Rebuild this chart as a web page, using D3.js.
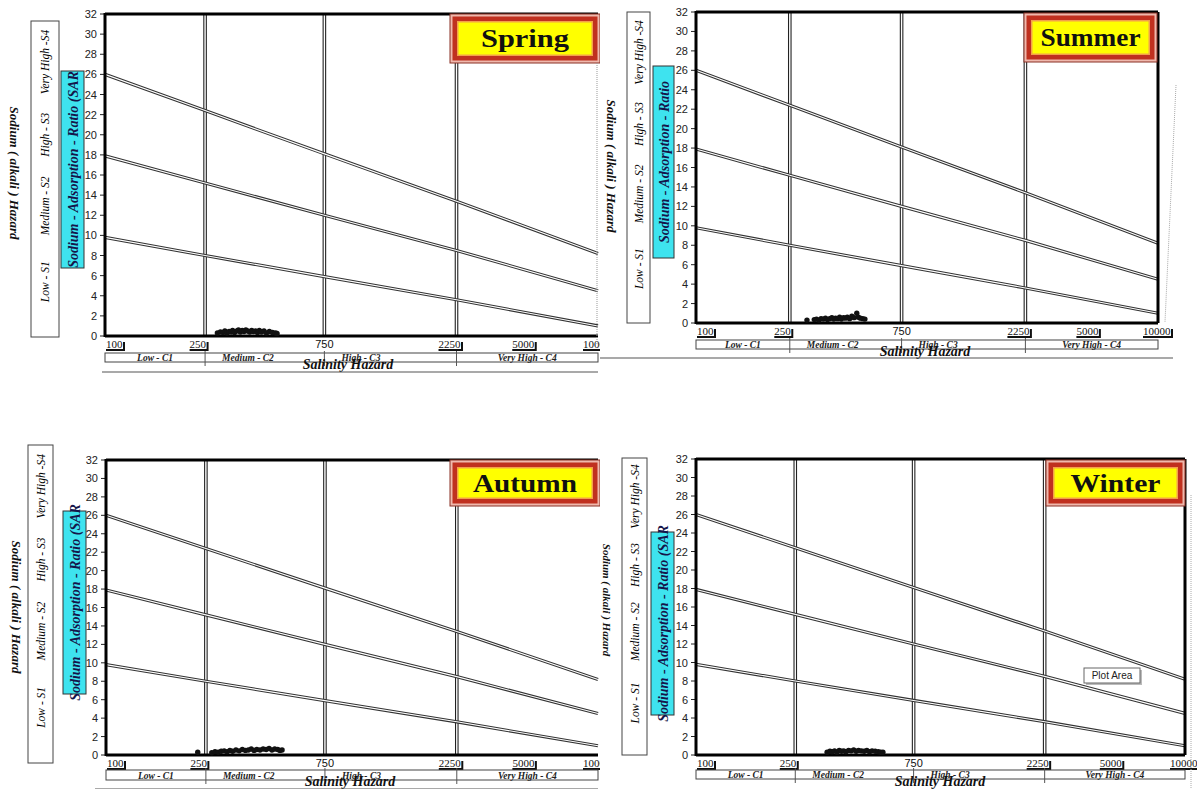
<!DOCTYPE html>
<html>
<head>
<meta charset="utf-8">
<script src="https://cdn.jsdelivr.net/npm/d3@7"></script>
<style>
  body { margin: 0; background: #fff; }
  svg { display: block; }
</style>
</head>
<body>
<div id="chart"></div>
<script>
// ---- data ----
var seasons = ["Spring", "Summer", "Autumn", "Winter"];
var ecBreaks = [100, 250, 750, 2250, 10000];          // salinity class limits (µS/cm)
var xTickValues = [100, 250, 750, 2250, 5000, 10000];
var xTickLabels = ["100", "250", "750", "2250", "5000", "10000"];
var yTickValues = [0, 2, 4, 6, 8, 10, 12, 14, 16, 18, 20, 22, 24, 26, 28, 30, 32];
var salinityClasses = ["Low - C1", "Medium - C2", "High - C3", "Very High - C4"];
var sodiumClasses = ["Very High -S4", "High - S3", "Medium - S2", "Low - S1"];

// SAR boundary lines, values at ecBreaks
var lineS3S4 = [26, 22.4, 18.1, 13.4, 8.2];
var lineS2S3 = [17.9, 15.2, 12.0, 8.5, 4.5];
var lineS1S2 = [9.8, 8.0, 5.9, 3.6, 1.0];

var springEC  = [280, 288, 295, 300, 306, 312, 318, 322, 328, 335, 340, 346, 352, 358, 364, 370, 377, 384, 390, 398, 405, 412, 420, 430, 440, 452, 465, 478, 485];
var springSAR = [0.3, 0.4, 0.35, 0.5, 0.3, 0.45, 0.4, 0.55, 0.35, 0.5, 0.6, 0.4, 0.55, 0.45, 0.6, 0.5, 0.4, 0.55, 0.45, 0.5, 0.35, 0.55, 0.4, 0.5, 0.3, 0.45, 0.35, 0.3, 0.25];
var summerEC  = [296, 318, 325, 333, 340, 348, 355, 362, 370, 378, 385, 392, 400, 408, 415, 424, 432, 440, 450, 460, 470, 483, 490, 500, 512, 523];
var summerSAR = [0.3, 0.35, 0.4, 0.3, 0.45, 0.4, 0.5, 0.35, 0.45, 0.55, 0.4, 0.5, 0.45, 0.6, 0.4, 0.55, 0.5, 0.6, 0.45, 0.7, 0.55, 1.0, 0.6, 0.5, 0.45, 0.4];
var autumnEC  = [232, 264, 272, 280, 288, 296, 304, 312, 320, 330, 340, 350, 360, 370, 380, 390, 400, 412, 424, 436, 448, 460, 472, 485, 495, 505];
var autumnSAR = [0.3, 0.25, 0.35, 0.3, 0.4, 0.45, 0.35, 0.5, 0.4, 0.55, 0.45, 0.6, 0.5, 0.55, 0.65, 0.5, 0.6, 0.55, 0.65, 0.6, 0.7, 0.55, 0.65, 0.6, 0.5, 0.55];
var winterEC  = [336, 345, 352, 360, 368, 376, 384, 392, 400, 410, 420, 430, 440, 450, 462, 474, 486, 498, 510, 525, 540, 552, 564];
var winterSAR = [0.3, 0.4, 0.35, 0.45, 0.3, 0.5, 0.4, 0.45, 0.35, 0.5, 0.45, 0.55, 0.4, 0.5, 0.45, 0.4, 0.5, 0.35, 0.45, 0.4, 0.35, 0.3, 0.3];

// ---- layout of the four panels ----
var panels = [
  {title: seasons[0], ec: springEC, sar: springSAR, L: 105, R: 598, T: 14, B: 336, clip: true,
   haz: [31, 21, 28, 316], sarBox: [61, 71, 23, 197], sarText: "Sodium - Adsorption - Ratio (SAR",
   sodX: 15, sodY: 173, sodSize: 13, tBox: [450, 14, 150, 49], tLen: 88,
   sTop: 353, sBot: 362, salX: 348, salY: 369, line: [102, 598, 372], rightFrame: false},
  {title: seasons[1], ec: summerEC, sar: summerSAR, L: 696, R: 1158, T: 12, B: 323, clip: false,
   haz: [627, 12, 23, 311], sarBox: [653, 66, 21, 192], sarText: "Sodium - Adsorption - Ratio",
   sodX: 612, sodY: 166, sodSize: 13, tBox: [1024, 13, 133, 49], tLen: 100,
   sTop: 340, sBot: 349, salX: 925, salY: 356, line: [600, 1173, 358], rightFrame: true},
  {title: seasons[2], ec: autumnEC, sar: autumnSAR, L: 106, R: 598, T: 460, B: 755, clip: true,
   haz: [28, 445, 25, 318], sarBox: [63, 511, 23, 183], sarText: "Sodium - Adsorption - Ratio (SAR",
   sodX: 17, sodY: 607, sodSize: 13, tBox: [450, 460, 150, 46], tLen: 104,
   sTop: 770, sBot: 780, salX: 350, salY: 786, line: [95, 598, 789], rightFrame: false},
  {title: seasons[3], ec: winterEC, sar: winterSAR, L: 696, R: 1185, T: 459, B: 755, clip: false,
   haz: [622, 458, 25, 297], sarBox: [651, 532, 23, 183], sarText: "Sodium - Adsorption - Ratio (SAR",
   sodX: 608, sodY: 600, sodSize: 11, tBox: [1046, 460, 139, 46], tLen: 90,
   sTop: 770, sBot: 779, salX: 940, salY: 786, line: [600, 1190, 792], rightFrame: true}
];
var breakFrac = [0, 0.203, 0.445, 0.713, 1];
var hazFrac = [0.13, 0.36, 0.585, 0.825];
var serif = "'Liberation Serif', 'DejaVu Serif', serif";
var sans = "'Liberation Sans', Arial, sans-serif";

var svg = d3.select("#chart").append("svg").attr("width", 1197).attr("height", 789);
svg.append("defs").append("clipPath").attr("id", "leftHalf")
  .append("rect").attr("x", 0).attr("y", 0).attr("width", 600).attr("height", 789);

panels.forEach(function(p) {
  var g = svg.append("g");
  if (p.clip) g.attr("clip-path", "url(#leftHalf)");
  var w = p.R - p.L;
  var xs = d3.scaleLinear().domain(ecBreaks.map(Math.log10)).range(breakFrac.map(function(f) { return p.L + f * w; }));
  var x = function(v) { return xs(Math.log10(v)); };
  var y = d3.scaleLinear().domain([0, 32]).range([p.B, p.T]);

  // hazard label box
  g.append("rect").attr("x", p.haz[0]).attr("y", p.haz[1]).attr("width", p.haz[2]).attr("height", p.haz[3])
    .attr("fill", "#fff").attr("stroke", "#444").attr("stroke-width", 1);
  sodiumClasses.forEach(function(c, i) {
    var cx = p.haz[0] + p.haz[2] / 2 + 4, cy = p.haz[1] + p.haz[3] * hazFrac[i];
    g.append("text").attr("transform", "translate(" + cx + "," + cy + ") rotate(-90)")
      .attr("text-anchor", "middle").attr("font-family", serif).attr("font-style", "italic")
      .attr("font-size", 11.5).attr("fill", "#000").text(c);
  });
  g.append("text").attr("transform", "translate(" + (p.sodX - 5) + "," + p.sodY + ") rotate(90)")
    .attr("text-anchor", "middle").attr("font-family", serif).attr("font-style", "italic").attr("font-weight", "bold")
    .attr("font-size", p.sodSize).attr("fill", "#111").text("Sodium ( alkali ) Hazard");

  // SAR cyan box
  g.append("rect").attr("x", p.sarBox[0]).attr("y", p.sarBox[1]).attr("width", p.sarBox[2]).attr("height", p.sarBox[3])
    .attr("fill", "#3ee3ef").attr("stroke", "#333").attr("stroke-width", 1);
  g.append("text").attr("transform", "translate(" + (p.sarBox[0] + p.sarBox[2] / 2 + 5) + "," + (p.sarBox[1] + p.sarBox[3] / 2) + ") rotate(-90)")
    .attr("text-anchor", "middle").attr("font-family", serif).attr("font-style", "italic").attr("font-weight", "bold")
    .attr("font-size", 14).attr("fill", "#15154a").text(p.sarText);

  // y axis ticks and labels
  yTickValues.forEach(function(t) {
    g.append("line").attr("x1", p.L - 5).attr("x2", p.L).attr("y1", y(t)).attr("y2", y(t)).attr("stroke", "#222");
    g.append("text").attr("x", p.L - 8).attr("y", y(t) + 4).attr("text-anchor", "end")
      .attr("font-family", sans).attr("font-size", 11).attr("fill", "#222").text(t);
  });

  // vertical class lines (double)
  [250, 750, 2250].forEach(function(v) {
    g.append("line").attr("x1", x(v)).attr("x2", x(v)).attr("y1", p.T).attr("y2", p.B).attr("stroke", "#222").attr("stroke-width", 3.6);
    g.append("line").attr("x1", x(v)).attr("x2", x(v)).attr("y1", p.T).attr("y2", p.B).attr("stroke", "#fff").attr("stroke-width", 1.4);
  });

  // SAR boundary lines (double)
  var lineGen = d3.line().x(function(d, i) { return x(ecBreaks[i]); }).y(function(d) { return y(d); });
  [lineS3S4, lineS2S3, lineS1S2].forEach(function(arr) {
    g.append("path").attr("d", lineGen(arr)).attr("fill", "none").attr("stroke", "#333").attr("stroke-width", 3.2);
    g.append("path").attr("d", lineGen(arr)).attr("fill", "none").attr("stroke", "#fff").attr("stroke-width", 1.1);
  });

  // frame
  g.append("line").attr("x1", p.L).attr("x2", p.R).attr("y1", p.T).attr("y2", p.T).attr("stroke", "#000").attr("stroke-width", 3);
  g.append("line").attr("x1", p.L).attr("x2", p.L).attr("y1", p.T - 1).attr("y2", p.B + 1).attr("stroke", "#000").attr("stroke-width", 3);
  g.append("line").attr("x1", p.L).attr("x2", p.R).attr("y1", p.B).attr("y2", p.B).attr("stroke", "#000").attr("stroke-width", 3);
  if (p.rightFrame) {
    g.append("line").attr("x1", p.R).attr("x2", p.R).attr("y1", p.T).attr("y2", p.B).attr("stroke", "#000").attr("stroke-width", 3);
  }

  // samples
  g.selectAll("circle.pt").data(p.ec).enter().append("circle").attr("class", "pt")
    .attr("cx", function(d) { return x(d); })
    .attr("cy", function(d, i) { return y(p.sar[i]); })
    .attr("r", 2.7).attr("fill", "#111");

  // x tick labels
  xTickValues.forEach(function(v, i) {
    var lbl = xTickLabels[i], ty = p.B + 12;
    var under = v !== 750;
    var anchor = "end", tx = x(v) + 1;
    if (v === 100) { anchor = "start"; tx = p.L + 1; }
    if (v === 750) { anchor = "middle"; tx = x(v); }
    if (v === 2250) { tx = x(v) + 4; }
    if (v === 5000) { tx = x(v) + 2; }
    if (v === 10000) { anchor = "start"; tx = p.R - 15; }
    var t = g.append("text").attr("x", tx).attr("y", ty).attr("text-anchor", anchor)
      .attr("font-family", under ? serif : sans).attr("font-size", 11).attr("fill", "#111").text(lbl);
    if (under) {
      var bb = t.node().getBBox();
      g.append("line").attr("x1", bb.x).attr("x2", bb.x + bb.width + 1).attr("y1", ty + 2).attr("y2", ty + 2)
        .attr("stroke", "#111").attr("stroke-width", 2);
      g.append("line").attr("x1", bb.x + bb.width + 1).attr("x2", bb.x + bb.width + 1).attr("y1", ty - 6).attr("y2", ty + 3)
        .attr("stroke", "#111").attr("stroke-width", 2);
    }
  });

  // salinity class strip
  g.append("rect").attr("x", p.L).attr("y", p.sTop).attr("width", w).attr("height", p.sBot - p.sTop)
    .attr("fill", "#fff").attr("stroke", "#444").attr("stroke-width", 1);
  [250, 750, 2250].forEach(function(v) {
    g.append("line").attr("x1", x(v)).attr("x2", x(v)).attr("y1", p.sTop - 2).attr("y2", p.sBot + 4).attr("stroke", "#555");
  });
  salinityClasses.forEach(function(c, i) {
    var x0 = x(ecBreaks[i]), x1 = x(ecBreaks[i + 1]);
    var t = g.append("text").attr("y", p.sBot - 1.5)
      .attr("font-family", serif).attr("font-style", "italic").attr("font-weight", "bold")
      .attr("font-size", 9.5).attr("fill", "#222").text(c);
    if (i === 1 || i === 2) t.attr("x", x0 + 17).attr("text-anchor", "start");
    else t.attr("x", (x0 + x1) / 2).attr("text-anchor", "middle");
  });
  g.append("text").attr("x", p.salX).attr("y", p.salY).attr("text-anchor", "middle")
    .attr("font-family", serif).attr("font-style", "italic").attr("font-weight", "bold")
    .attr("font-size", 14).attr("fill", "#111").text("Salinity  Hazard");
  g.append("line").attr("x1", p.line[0]).attr("x2", p.line[1]).attr("y1", p.line[2]).attr("y2", p.line[2])
    .attr("stroke", "#555").attr("stroke-width", 1.2);

  // season title box
  var b = p.tBox;
  g.append("rect").attr("x", b[0]).attr("y", b[1]).attr("width", b[2]).attr("height", b[3])
    .attr("fill", "#efb8ad").attr("stroke", "#8a3025").attr("stroke-width", 1);
  g.append("rect").attr("x", b[0] + 2.5).attr("y", b[1] + 2.5).attr("width", b[2] - 5).attr("height", b[3] - 5).attr("fill", "#c0301f");
  g.append("rect").attr("x", b[0] + 7).attr("y", b[1] + 7).attr("width", b[2] - 14).attr("height", b[3] - 14).attr("fill", "#f3a04a");
  g.append("rect").attr("x", b[0] + 8.5).attr("y", b[1] + 8.5).attr("width", b[2] - 17).attr("height", b[3] - 17).attr("fill", "#ffff00");
  g.append("text").attr("x", b[0] + b[2] / 2).attr("y", b[1] + b[3] / 2 + 8.5).attr("text-anchor", "middle")
    .attr("font-family", serif).attr("font-weight", "bold").attr("font-size", 26)
    .attr("textLength", p.tLen).attr("lengthAdjust", "spacingAndGlyphs").attr("fill", "#111").text(p.title);
});

// stray dotted guides at the panel edges
svg.append("line").attr("x1", 597).attr("x2", 597).attr("y1", 63).attr("y2", 345).attr("stroke", "#999").attr("stroke-dasharray", "1,1");
svg.append("line").attr("x1", 1176).attr("x2", 1165).attr("y1", 85).attr("y2", 322).attr("stroke", "#aaa").attr("stroke-dasharray", "1,1");
svg.append("line").attr("x1", 1191).attr("x2", 1191).attr("y1", 495).attr("y2", 789).attr("stroke", "#aaa").attr("stroke-dasharray", "1,1");

// "Plot Area" hover tip on the winter panel
svg.append("rect").attr("x", 1086).attr("y", 670).attr("width", 56).attr("height", 15).attr("fill", "#bbb");
svg.append("rect").attr("x", 1084).attr("y", 668).attr("width", 56).attr("height", 15).attr("fill", "#fff").attr("stroke", "#666");
svg.append("text").attr("x", 1112).attr("y", 679).attr("text-anchor", "middle").attr("font-family", sans).attr("font-size", 10).attr("fill", "#222").text("Plot Area");
</script>
</body>
</html>
